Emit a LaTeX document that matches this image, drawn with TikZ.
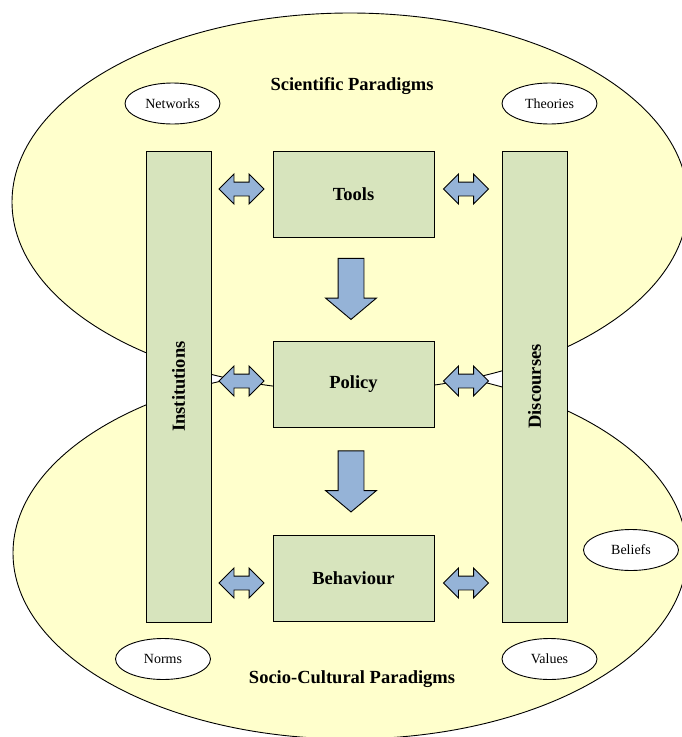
\documentclass[tikz,border=0pt]{standalone}
\usepackage{fontspec}
\setmainfont{Liberation Serif}
\usetikzlibrary{shapes.geometric,shapes.arrows,positioning}

\definecolor{paperyellow}{HTML}{FFFFCC}
\definecolor{boxgreen}{HTML}{D7E4BD}
\definecolor{arrowblue}{HTML}{95B3D7}

\begin{document}
\begin{tikzpicture}[x=1pt,y=-1pt]
      \tikzset{
        node distance=190pt,
        paradigm/.style={ellipse,draw,fill=paperyellow,line width=0.9pt,inner sep=0pt},
        block/.style={rectangle,draw,fill=boxgreen,line width=0.9pt,font=\bfseries\fontsize{18.5}{22}\selectfont,minimum width=161pt,minimum height=86pt},
        pillar/.style={block,rotate=90,minimum width=471pt,minimum height=65pt},
        idea/.style={ellipse,draw,fill=white,line width=0.9pt,inner sep=0pt,minimum width=95pt,minimum height=41pt,font=\fontsize{14}{16}\selectfont},
        heading/.style={font=\bfseries\fontsize{18.5}{22}\selectfont},
        link/.style={double arrow,draw,fill=arrowblue,line width=0.9pt,inner sep=6.5pt,minimum height=45pt,minimum width=29pt,double arrow head extend=8pt},
        flow/.style={single arrow,draw,fill=arrowblue,line width=0.9pt,inner sep=12.5pt,minimum height=61pt,minimum width=50pt,single arrow head extend=12.5pt,single arrow tip angle=100,shape border rotate=270}
      }
      \useasboundingbox (0,0) rectangle (682,737);

      % paradigms
      \node[paradigm,minimum width=674pt,minimum height=372pt] (socio) at (350,553) {};
      \node[paradigm,minimum width=676pt,minimum height=378pt] (sci) at (350,202) {};

      \node[heading] (scihead) at (352,86) {Scientific Paradigms};
      \node[heading] (sociohead) at (352,679) {Socio-Cultural Paradigms};

      \node[idea] (networks) at (172.5,103.5) {Networks};
      \node[idea] (theories) at (549.5,103.5) {Theories};
      \node[idea] (beliefs) at (631,550) {Beliefs};
      \node[idea] (norms) at (163,659) {Norms};
      \node[idea] (values) at (549.5,659) {Values};

      % core
      \node[block] (tools) at (353.5,194) {Tools};
      \node[block,below of=tools] (policy) {Policy};
      \node[block,below of=policy,node distance=194.5pt] (behaviour) {Behaviour};

      \node[pillar] (inst) at (178.5,386.5) {Institutions};
      \node[pillar] (disc) at (534.5,386.5) {Discourses};

      \node[flow] (f1) at (351,283.5) {};
      \node[flow] (f2) at (351,476) {};

      \node[link] (l1) at (241.5,189) {};
      \node[link] (l2) at (241.5,381) {};
      \node[link] (l3) at (241.5,583) {};
      \node[link] (r1) at (466,189) {};
      \node[link] (r2) at (466,381) {};
      \node[link] (r3) at (466,583) {};
    \end{tikzpicture}
\end{document}
